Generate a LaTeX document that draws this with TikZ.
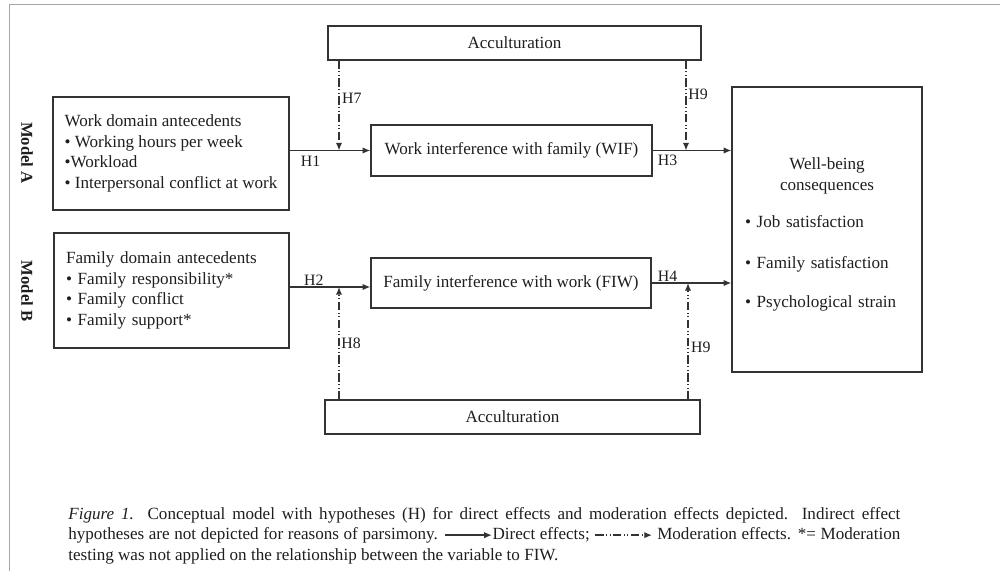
\documentclass[tikz,border=0pt]{standalone}
\usepackage{fontspec}
\setmainfont{Liberation Serif}
\usetikzlibrary{arrows.meta,calc}

\definecolor{linegray}{HTML}{333333}
\definecolor{framegray}{HTML}{A6A6A6}
\definecolor{textgray}{HTML}{1E1E1E}

\tikzset{
  box/.style={draw=linegray, line width=0.8pt, inner sep=0pt, text=textgray},
  direct/.style={draw=linegray, line width=0.8pt, -{Latex[length=4.6pt,width=3.8pt]}},
  moder/.style={direct, dash pattern=on 5pt off 1.5pt on 0.6pt off 1.5pt on 0.6pt off 1.5pt},
  hlabel/.style={inner sep=0pt, text=textgray, font=\fontsize{9.5}{11}\selectfont},
  modelname/.style={rotate=-90, inner sep=0pt, font=\bfseries, text=textgray}
}

\newcommand{\directkey}{\tikz[baseline=-0.6ex]\draw[direct] (0pt,0pt) -- (28pt,0pt);}
\newcommand{\moderkey}{\tikz[baseline=-0.6ex]\draw[moder] (0pt,0pt) -- (34pt,0pt);}

\begin{document}
\begin{tikzpicture}[x=0.6pt, y=-0.6pt, font=\fontsize{10.25}{12.3}\selectfont]
\useasboundingbox (0,0) rectangle (1000,571);
% frame of the figure
\draw[framegray, line width=0.6pt] (1000,5) -- (9,5) -- (9,571);

% model labels
\node[modelname] (modelA) at (27,153) {Model A};
\node[modelname] (modelB) at (27,291) {Model B};

% boxes
\node[box, minimum width=223.8pt, minimum height=20.4pt] (accTop) at (514.5,43) {Acculturation};
\node[box, minimum width=141.6pt, minimum height=67.8pt, align=left] (work) at (171,153.5)
  {Work domain antecedents\\ • Working hours per week\\ •Workload\\ • Interpersonal conflict at work};
\node[box, minimum width=141pt, minimum height=69pt, inner xsep=7.2pt, text width=126.6pt, align=left] (family) at (171.5,290.5)
  {Family domain antecedents\\ • Family responsibility*\\ • Family conflict\\ • Family support*};
\node[box, minimum width=168.6pt, minimum height=30.6pt] (wif) at (511.5,150.5) {Work interference with family (WIF)};
\node[box, minimum width=168pt, minimum height=30pt] (fiw) at (511,283) {Family interference with work (FIW)};
\node[box, minimum width=114pt, minimum height=171pt, inner xsep=7.8pt, text width=98.4pt] (well) at (827,229.5)
  {{\centering Well-being\\ consequences\par}\vspace{9.9pt}
   \noindent • Job satisfaction\\[12.3pt]
   • Family satisfaction\\[11.1pt]
   • Psychological strain\par\vspace{-6pt}};
\node[box, minimum width=225pt, minimum height=20.4pt] (accBot) at (512.5,417) {Acculturation};

% direct effects
\coordinate (h2in) at ([yshift=-2.4pt]fiw.west);
\draw[direct] (wif.west -| work.east) -- (wif.west) node[hlabel, pos=.26, below=3pt] {H1};
\draw[direct] (family.east |- h2in) -- (h2in) node[hlabel, pos=.3, above=0.5pt] {H2};
\draw[direct] (wif.east) -- (wif.east -| well.west) node[hlabel, pos=.19, below=2.6pt] {H3};
\draw[direct] (fiw.east) -- (fiw.east -| well.west) node[hlabel, pos=.2, above=0.4pt] {H4};

% moderation effects
\coordinate (m7) at (339,0);
\coordinate (m9) at (686,0);
\coordinate (m8) at (339,0);
\coordinate (m10) at (688,0);
\draw[moder] (m7 |- accTop.south) -- (m7 |- wif.west) node[hlabel, pos=.42, right=1.5pt] {H7};
\draw[moder] (m9 |- accTop.south) -- (m9 |- wif.east) node[hlabel, pos=.38, right=1pt] {H9};
\draw[moder] (m8 |- accBot.north) -- (m8 |- h2in) node[hlabel, pos=.5, right=1pt] {H8};
\draw[moder] (m10 |- accBot.north) -- (m10 |- fiw.east) node[hlabel, pos=.45, right=1.5pt] {H9};

% caption
\node[anchor=north west, inner sep=0pt, text width=499.2pt, align=justify, text=textgray] (caption) at (68,507)
  {\hyphenpenalty=10000\exhyphenpenalty=10000\noindent
   \textit{Figure 1.} Conceptual model with hypotheses (H) for direct effects and moderation effects depicted. Indirect effect\linebreak
   hypotheses are not depicted for reasons of parsimony. \directkey Direct effects; \moderkey\ Moderation effects. *= Moderation\linebreak
   testing was not applied on the relationship between the variable to FIW.};
\end{tikzpicture}
\end{document}
